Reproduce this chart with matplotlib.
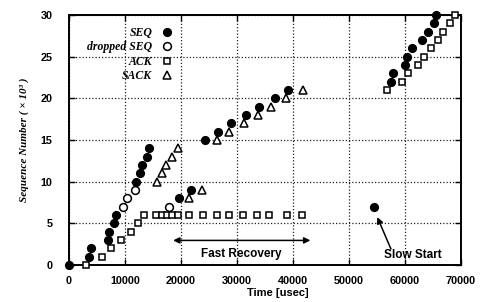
import matplotlib
matplotlib.use("Agg")
import matplotlib.pyplot as plt

# ---- data (time in usec, sequence number in thousands) ----
seq_t = [0, 3630, 3870, 6900, 7200, 8100, 8400, 11960, 12680, 12980, 13990, 14230,
         19700, 21800, 24290, 26550, 28870, 31550, 33980, 36790, 39160,
         54460, 57500, 57920, 60000, 60300, 61200, 63040, 64160, 65180, 65540]
seq_n = [0, 1, 2, 3, 4, 5, 6, 10, 11, 12, 13, 14,
         8, 9, 15, 16, 17, 18, 19, 20, 21,
         7, 22, 23, 24, 25, 26, 27, 28, 29, 30]

drop_t = [9700, 10300, 11730, 17860]
drop_n = [7, 8, 9, 7]

ack_t = [3036, 5950, 7500, 9290, 11000, 12300, 13390, 15560, 16600, 17500, 18480, 19460,
         21480, 23875, 26375, 28520, 31125, 33520, 35770, 38875, 41550,
         56730, 59520, 60590, 62380, 63450, 64640, 65950, 66840, 68040, 68930]
ack_n = [0, 1, 2, 3, 4, 5, 6, 6, 6, 6, 6, 6,
         6, 6, 6, 6, 6, 6, 6, 6, 6,
         21, 22, 23, 24, 25, 26, 27, 28, 29, 30]

sack_t = [15650, 16670, 17260, 18450, 19520, 21480, 23700,
          26370, 28570, 31300, 33700, 36000, 38750, 41700]
sack_n = [10, 11, 12, 13, 14, 8, 9,
          15, 16, 17, 18, 19, 20, 21]

x_ticks = [0, 10000, 20000, 30000, 40000, 50000, 60000, 70000]
y_ticks = [0, 5, 10, 15, 20, 25, 30]
legend_labels = ["SEQ", "dropped SEQ", "ACK", "SACK"]

# ---- figure ----
fig = plt.figure(figsize=(4.84, 3.02), dpi=100)
ax = fig.add_axes([69/484, 1-265/302, (461-69)/484, (265-15)/302])

ax.plot(seq_t, seq_n, 'o', ms=5.6, mfc='black', mec='black', ls='none',
        label=legend_labels[0], zorder=4, clip_on=False)
ax.plot(drop_t, drop_n, 'o', ms=5.6, mfc='white', mec='black', mew=1.1, ls='none',
        label=legend_labels[1], zorder=4)
ax.plot(ack_t, ack_n, 's', ms=4.6, mfc='white', mec='black', mew=1.1, ls='none',
        label=legend_labels[2], zorder=4, clip_on=False)
ax.plot(sack_t, sack_n, '^', ms=5.6, mfc='white', mec='black', mew=1.1, ls='none',
        label=legend_labels[3], zorder=4)

ax.set_xlim(0, 70000)
ax.set_ylim(0, 30)
ax.set_xticks(x_ticks)
ax.set_yticks(y_ticks)

tick_font = dict(family='Liberation Sans', weight='bold', size=7.8)
ax.set_xticklabels([str(v) for v in x_ticks], fontdict=tick_font)
ax.set_yticklabels([str(v) for v in y_ticks], fontdict=tick_font)
ax.tick_params(axis='both', which='both', direction='in', length=4, width=1.0,
               top=True, right=True, color='black')
ax.tick_params(axis='x', pad=8)
ax.tick_params(axis='y', pad=12)

ax.grid(True, color='#222222', linestyle=(0, (1, 1.6)), linewidth=0.9)
ax.set_axisbelow(True)
for s in ax.spines.values():
    s.set_linewidth(1.4)
    s.set_color('black')

ax.set_xlabel("Time [usec]", family='Liberation Sans', weight='bold', size=8)
ax.xaxis.set_label_coords(0.533, -0.09)
ax.set_ylabel("Sequence Number ( × 10³ )", family='Liberation Serif', weight='bold',
              style='italic', size=8, labelpad=8)

leg = ax.legend(loc='upper right', bbox_to_anchor=(0.285, 0.985), frameon=False,
                markerfirst=False, numpoints=1, handlelength=1.0, handletextpad=0.7,
                labelspacing=0.2, borderpad=0.2,
                prop=dict(family='Liberation Serif', weight='bold', style='italic', size=8.5))

# annotations
ax.annotate("", xy=(18600, 2.95), xytext=(43100, 2.95),
            arrowprops=dict(arrowstyle='<|-|>', color='black', lw=1.1,
                            mutation_scale=9, shrinkA=0, shrinkB=0))
ax.text(30800, 1.3, "Fast Recovery", ha='center', va='center',
        family='Liberation Sans', weight='bold', size=8.5)

ax.annotate("Slow Start", xy=(55050, 5.75), xytext=(61400, 1.2),
            ha='center', va='center', family='Liberation Sans', weight='bold', size=8.5,
            arrowprops=dict(arrowstyle='-|>', color='black', lw=1.1, mutation_scale=9,
                            shrinkA=0, shrinkB=0, patchA=None,
                            relpos=(0.12, 1.0)))

fig.savefig("out.png", dpi=100)
